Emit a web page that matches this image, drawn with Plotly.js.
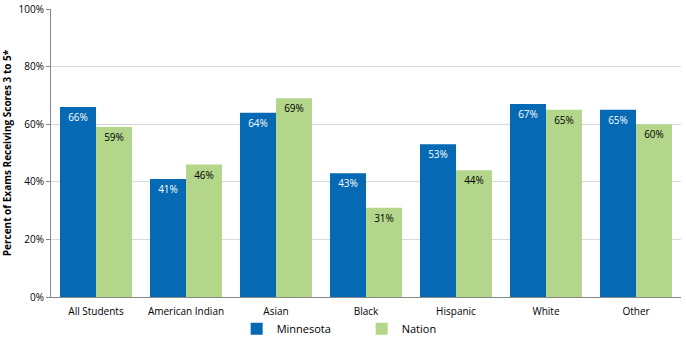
<!DOCTYPE html>
<html>
<head>
<meta charset="utf-8">
<script src="https://cdn.plot.ly/plotly-3.0.1.min.js"></script>
<style>html,body{margin:0;padding:0;background:#fff;}#chart{width:686px;height:339px;}</style>
</head>
<body>
<div id="chart"></div>
<script>
const categories = ["All Students", "American Indian", "Asian", "Black", "Hispanic", "White", "Other"];
const minnesota = [66, 41, 64, 43, 53, 67, 65];
const nation = [59, 46, 69, 31, 44, 65, 60];
const seriesNames = ["Minnesota", "Nation"];
const yTickVals = [0, 20, 40, 60, 80, 100];
const yTickText = ["0%", "20%", "40%", "60%", "80%", "100%"];

const fontFam = "'Open Sans', 'Noto Sans', sans-serif";
const traces = [
  {
    type: "bar", name: seriesNames[0], x: categories, y: minnesota,
    marker: {color: "#0569B3"},
    text: minnesota.map(v => v + "%"), textposition: "inside", insidetextanchor: "end",
    textangle: 0, textfont: {color: "#ffffff", size: 10, family: fontFam},
    hoverinfo: "none"
  },
  {
    type: "bar", name: seriesNames[1], x: categories, y: nation,
    marker: {color: "#B3D68A"},
    text: nation.map(v => v + "%"), textposition: "inside", insidetextanchor: "end",
    textangle: 0, textfont: {color: "#000000", size: 10, family: fontFam},
    hoverinfo: "none"
  }
];
const layout = {
  width: 686, height: 339,
  margin: {l: 51, r: 5, t: 9, b: 42},
  paper_bgcolor: "#ffffff", plot_bgcolor: "#ffffff",
  font: {family: fontFam, size: 10, color: "#000"},
  barmode: "group", bargap: 0.2, bargroupgap: 0,
  showlegend: true,
  legend: {orientation: "h", xref: "container", yref: "container", x: 0.345, xanchor: "left", y: 0.03, yanchor: "middle",
           bgcolor: "rgba(0,0,0,0)",
           font: {size: 11, family: fontFam}, entrywidth: 80, entrywidthmode: "pixels", itemwidth: 30, tracegroupgap: 0},
  xaxis: {
    showline: true, linecolor: "#888", linewidth: 1, ticks: "outside", ticklen: 5, tickcolor: "rgba(0,0,0,0)",
    tickfont: {size: 10, family: fontFam}, fixedrange: true
  },
  yaxis: {
    range: [0, 100], tickvals: yTickVals, ticktext: yTickText,
    showgrid: true, gridcolor: "#d9d9d9", showline: true, linecolor: "#888", linewidth: 1,
    ticks: "outside", ticklen: 4, tickcolor: "#888",
    tickfont: {size: 10, family: fontFam}, zeroline: false,
    title: {text: "<b>Percent of Exams Receiving Scores 3 to 5*</b>", font: {size: 10, family: fontFam}, standoff: 8}
  }
};
Plotly.newPlot("chart", traces, layout, {displayModeBar: false, staticPlot: true});
</script>
</body>
</html>
